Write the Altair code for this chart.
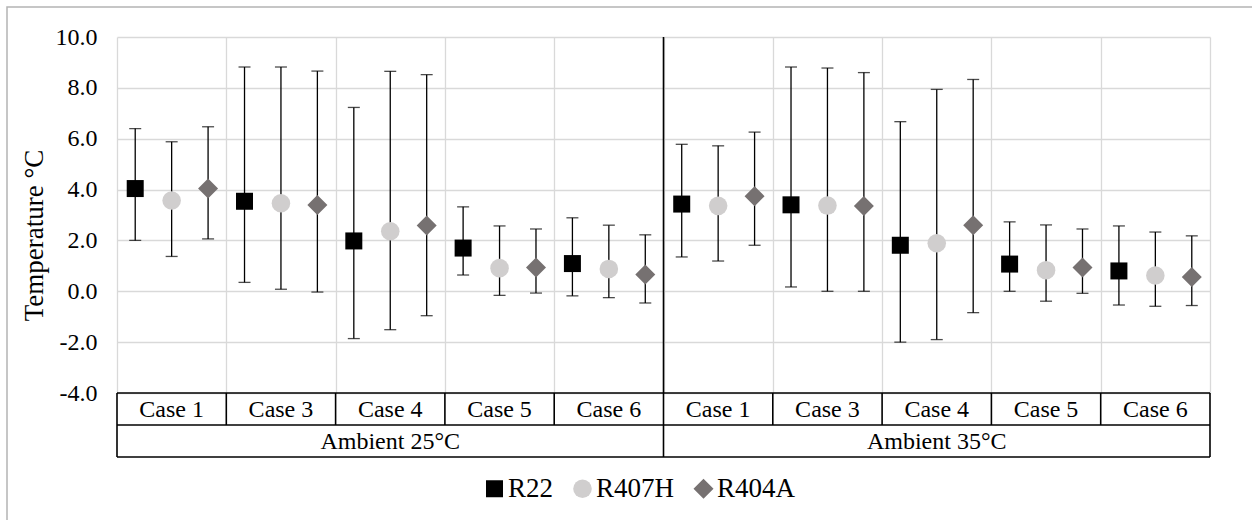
import altair as alt
import pandas as pd

FONT = "Liberation Serif"

cases = ["Case 1", "Case 3", "Case 4", "Case 5", "Case 6"]
ambients = ["Ambient 25°C", "Ambient 35°C"]
series = ["R22", "R407H", "R404A"]
colors = ["#000000", "#D0CECE", "#767171"]
shapes = ["square", "circle", "diamond"]
sizes = [289, 400, 400]

# values per column: Ambient 25°C cases 1,3,4,5,6 then Ambient 35°C cases 1,3,4,5,6
r22_mean = [4.04, 3.54, 1.98, 1.70, 1.09, 3.43, 3.40, 1.81, 1.07, 0.80]
r22_high = [6.40, 8.82, 7.23, 3.32, 2.89, 5.78, 8.82, 6.67, 2.73, 2.57]
r22_low = [2.00, 0.35, -1.86, 0.64, -0.18, 1.35, 0.17, -2.00, 0.00, -0.54]

r407h_mean = [3.57, 3.46, 2.36, 0.91, 0.88, 3.36, 3.37, 1.89, 0.83, 0.62]
r407h_high = [5.88, 8.82, 8.65, 2.57, 2.60, 5.72, 8.78, 7.94, 2.61, 2.33]
r407h_low = [1.37, 0.08, -1.51, -0.16, -0.25, 1.19, 0.00, -1.90, -0.39, -0.59]

r404a_mean = [4.04, 3.39, 2.59, 0.94, 0.66, 3.74, 3.35, 2.60, 0.94, 0.56]
r404a_high = [6.47, 8.66, 8.52, 2.45, 2.22, 6.26, 8.60, 8.33, 2.45, 2.18]
r404a_low = [2.06, -0.03, -0.96, -0.07, -0.46, 1.81, 0.00, -0.84, -0.08, -0.56]

y_ticks = [-4, -2, 0, 2, 4, 6, 8, 10]

means = [r22_mean, r407h_mean, r404a_mean]
highs = [r22_high, r407h_high, r404a_high]
lows = [r22_low, r407h_low, r404a_low]

rows = []
n_cols = len(ambients) * len(cases)
for s_i, s in enumerate(series):
    for col in range(n_cols):
        rows.append({"series": s, "s_idx": s_i, "col": col,
                     "mean": means[s_i][col], "high": highs[s_i][col], "low": lows[s_i][col]})
df = pd.DataFrame(rows)

case_df = pd.DataFrame({"label": [c for _ in ambients for c in cases], "col": list(range(n_cols))})
amb_df = pd.DataFrame({"label": ambients, "grp": list(range(len(ambients)))})
bound_df = pd.DataFrame({"b": list(range(n_cols + 1))})
grp_bound_df = pd.DataFrame({"b": [0, len(cases), n_cols]})
mid_df = pd.DataFrame({"b": [len(cases)]})
one_df = pd.DataFrame({"k": [0]})

W, H = 1093, 356
ROW = 32

xscale = alt.Scale(domain=[0, n_cols], nice=False, zero=False)
yscale = alt.Scale(domain=[-4, 10], nice=False, zero=False)

xaxis = alt.Axis(values=list(range(n_cols + 1)), grid=True, gridColor="#D9D9D9",
                 gridWidth=1.3, labels=False, ticks=False, domain=False, title=None)
yaxis = alt.Axis(values=y_ticks, grid=True, gridColor="#D9D9D9",
                 labelExpr="replace(format(datum.value, '.1f'), '\u2212', '-')",
                 gridWidth=1.3, ticks=False, domain=False, labelPadding=20,
                 labelFont=FONT, labelFontSize=24, labelColor="#000000",
                 title="Temperature °C", titleFont=FONT, titleFontSize=27,
                 titleFontWeight="normal", titleColor="#000000",
                 titleX=-83, titleY=198, titleBaseline="middle", titleAngle=270)

base = alt.Chart(df).transform_calculate(x="datum.col + (2 * datum.s_idx + 1) / 6")

err = base.mark_rule(color="black", strokeWidth=1.3).encode(
    x=alt.X("x:Q", scale=xscale, axis=xaxis),
    y=alt.Y("low:Q", scale=yscale, axis=yaxis),
    y2="high:Q",
)
cap_hi = base.mark_tick(color="black", orient="horizontal", size=12, thickness=1.3).encode(x="x:Q", y="high:Q")
cap_lo = base.mark_tick(color="black", orient="horizontal", size=12, thickness=1.3).encode(x="x:Q", y="low:Q")

pts = base.mark_point(filled=True, opacity=1, strokeWidth=0).encode(
    x="x:Q", y="mean:Q",
    color=alt.Color("series:N", scale=alt.Scale(domain=series, range=colors),
                    legend=alt.Legend(orient="none", legendX=364, legendY=438,
                                      direction="horizontal", title=None,
                                      labelFont=FONT, labelFontSize=27,
                                      labelColor="#000000", symbolSize=200,
                                      symbolStrokeWidth=0, labelOffset=0,
                                      columnPadding=15, padding=0)),
    shape=alt.Shape("series:N", scale=alt.Scale(domain=series, range=shapes)),
    size=alt.Size("series:N", scale=alt.Scale(domain=series, range=sizes), legend=None),
)

hline_top = alt.Chart(one_df).mark_rule(color="black", strokeWidth=1.6).encode(x=alt.datum(0), x2=alt.datum(n_cols), y=alt.value(H))
hline_mid = alt.Chart(one_df).mark_rule(color="black", strokeWidth=1.6).encode(x=alt.datum(0), x2=alt.datum(n_cols), y=alt.value(H + ROW))
hline_bot = alt.Chart(one_df).mark_rule(color="black", strokeWidth=1.6).encode(x=alt.datum(0), x2=alt.datum(n_cols), y=alt.value(H + 2 * ROW))
vlines_case = alt.Chart(bound_df).mark_rule(color="black", strokeWidth=1.6).encode(x="b:Q", y=alt.value(H), y2=alt.value(H + ROW))
vlines_grp = alt.Chart(grp_bound_df).mark_rule(color="black", strokeWidth=1.6).encode(x="b:Q", y=alt.value(H + ROW), y2=alt.value(H + 2 * ROW))
vline_mid = alt.Chart(mid_df).mark_rule(color="black", strokeWidth=1.6).encode(x="b:Q", y=alt.value(0), y2=alt.value(H))

case_text = alt.Chart(case_df).transform_calculate(xc="datum.col + 0.5").mark_text(
    font=FONT, fontSize=24, color="black", baseline="middle", align="center"
).encode(x="xc:Q", y=alt.value(H + ROW / 2 + 1), text="label:N")
amb_text = alt.Chart(amb_df).transform_calculate(xc="(datum.grp + 0.5) * 5").mark_text(
    font=FONT, fontSize=24, color="black", baseline="middle", align="center"
).encode(x="xc:Q", y=alt.value(H + ROW + ROW / 2 + 1), text="label:N")

border = alt.Chart(one_df).mark_rect(fill=None, stroke="#B4B4B4", strokeWidth=1.5).encode(
    x=alt.value(-110), x2=alt.value(1150), y=alt.value(-30), y2=alt.value(500))

chart = alt.layer(
    border, err, cap_hi, cap_lo, vline_mid, pts,
    hline_top, hline_mid, hline_bot, vlines_case, vlines_grp,
    case_text, amb_text,
).properties(
    width=W, height=H,
    autosize=alt.AutoSizeParams(type="none"),
    padding={"left": 117, "top": 37, "right": 42, "bottom": 127},
    background="white",
).configure_view(stroke=None)

chart.save("out.html", embed_options={"renderer": "svg", "actions": False})
